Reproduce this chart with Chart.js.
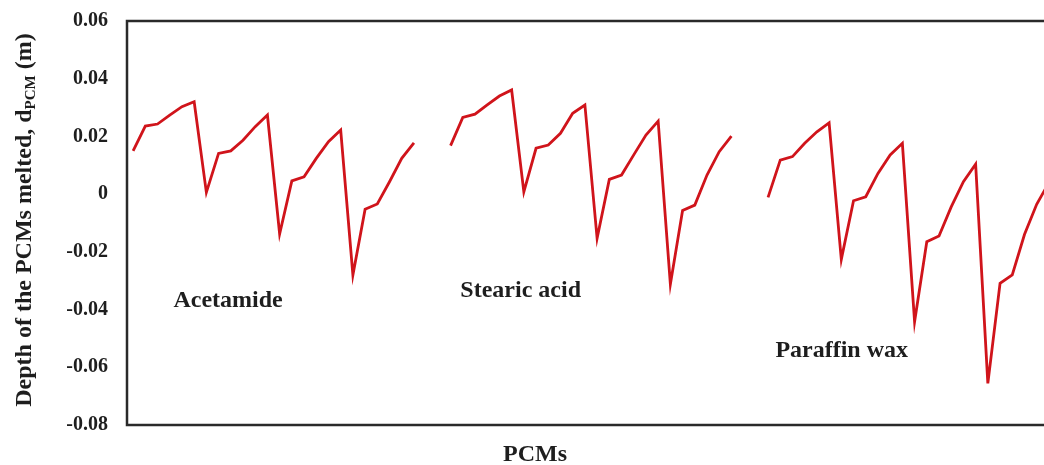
<!DOCTYPE html>
<html>
<head>
<meta charset="utf-8">
<script src="https://cdn.jsdelivr.net/npm/chart.js@4.4.1/dist/chart.umd.min.js"></script>
<style>
  html, body { margin: 0; padding: 0; background: #fff; overflow: hidden; }
  #wrap { position: absolute; left: 0; top: 0; width: 1080px; height: 465px; }
</style>
</head>
<body>
<div id="wrap"><canvas id="chart"></canvas></div>
<script>
"use strict";

// melted depth per time step, one run of 24 steps for each PCM
const acetamide = [
  0.0150, 0.0236, 0.0243, 0.0274, 0.0303, 0.0320,
  0.0006, 0.0141, 0.0150, 0.0187, 0.0234, 0.0274,
  -0.0138, 0.0046, 0.0060, 0.0124, 0.0182, 0.0222,
  -0.0280, -0.0052, -0.0034, 0.0043, 0.0124, 0.0178,
];
const stearicAcid = [
  0.0168, 0.0266, 0.0277, 0.0309, 0.0340, 0.0361,
  0.0008, 0.0159, 0.0170, 0.0211, 0.0280, 0.0309,
  -0.0153, 0.0051, 0.0066, 0.0136, 0.0205, 0.0253,
  -0.0312, -0.0057, -0.0038, 0.0066, 0.0147, 0.0201,
];
const paraffinWax = [
  -0.0011, 0.0118, 0.0130, 0.0176, 0.0216, 0.0247,
  -0.0226, -0.0023, -0.0009, 0.0072, 0.0136, 0.0176,
  -0.0442, -0.0165, -0.0145, -0.0044, 0.0043, 0.0104,
  -0.0656, -0.0309, -0.0280, -0.0140, -0.0035, 0.0040,
];
const pcmNames = ["Acetamide", "Stearic acid", "Paraffin wax"];
const yTicks = [0.06, 0.04, 0.02, 0, -0.02, -0.04, -0.06, -0.08];

const GAP = 2; // empty slots between the PCM runs
const runs = [acetamide, stearicAcid, paraffinWax];

const labels = [];
const datasets = [];
let start = 0;
runs.forEach((vals, k) => {
  datasets.push({ label: pcmNames[k], data: [], start });
  start += vals.length + GAP;
});
const total = start - GAP;
for (let i = 0; i < total; i++) labels.push(String(i + 1));
datasets.forEach((ds, k) => {
  const vals = runs[k];
  ds.data = labels.map((_, i) => {
    const j = i - ds.start;
    return j >= 0 && j < vals.length ? vals[j] : null;
  });
  delete ds.start;
  Object.assign(ds, { borderColor: "#d0141b", borderWidth: 2.8, pointRadius: 0, tension: 0, fill: false, spanGaps: false });
});

const SERIF = '"Liberation Serif", "Times New Roman", serif';
const INK = "#1e1e1e";

// where each PCM name sits: category index of its left edge and the value at its baseline
const nameAnchors = [
  { idx: 3.3, val: -0.0391 },
  { idx: 26.8, val: -0.0356 },
  { idx: 52.6, val: -0.0564 },
];

const decorations = {
  id: "decorations",
  beforeDatasetsDraw(chart) {
    const { ctx, chartArea: a } = chart;
    ctx.save();
    ctx.strokeStyle = "#2a2a2a";
    ctx.lineWidth = 2.5;
    ctx.strokeRect(a.left, a.top, a.right - a.left, a.bottom - a.top);
    ctx.restore();
  },
  afterDraw(chart) {
    const { ctx, scales } = chart;
    ctx.save();
    ctx.fillStyle = INK;

    // PCM names inside the plot
    ctx.font = `bold 24px ${SERIF}`;
    ctx.textAlign = "left";
    ctx.textBaseline = "alphabetic";
    nameAnchors.forEach((p, k) => {
      ctx.fillText(pcmNames[k], scales.x.getPixelForValue(p.idx), scales.y.getPixelForValue(p.val));
    });

    // x axis title
    ctx.textAlign = "center";
    ctx.fillText("PCMs", 535, 461);

    // y axis title with subscript
    const main = "Depth of the PCMs melted, d";
    const sub = "PCM";
    const tail = " (m)";
    const big = `bold 24px ${SERIF}`;
    const small = `bold 15px ${SERIF}`;
    ctx.font = big;
    const w1 = ctx.measureText(main).width;
    const w3 = ctx.measureText(tail).width;
    ctx.font = small;
    const w2 = ctx.measureText(sub).width;
    const full = w1 + w2 + w3;
    ctx.translate(31, 220);
    ctx.rotate(-Math.PI / 2);
    ctx.textAlign = "left";
    let x = -full / 2;
    ctx.font = big;
    ctx.fillText(main, x, 0);
    x += w1;
    ctx.font = small;
    ctx.fillText(sub, x, 4);
    x += w2;
    ctx.font = big;
    ctx.fillText(tail, x, 0);
    ctx.restore();
  },
};

new Chart(document.getElementById("chart"), {
  type: "line",
  data: { labels, datasets },
  options: {
    responsive: true,
    maintainAspectRatio: false,
    animation: false,
    layout: { padding: { top: 21, right: 25, left: 0, bottom: 0 } },
    plugins: { legend: { display: false }, tooltip: { enabled: false } },
    scales: {
      x: {
        type: "category",
        offset: true,
        grid: { display: false, drawTicks: false },
        border: { display: false },
        ticks: { display: false },
        afterFit: (s) => { s.height = 40; },
      },
      y: {
        min: yTicks[yTicks.length - 1],
        max: yTicks[0],
        grid: { display: false, drawTicks: false },
        border: { display: false },
        afterBuildTicks: (s) => { s.ticks = yTicks.map((v) => ({ value: v })); },
        afterFit: (s) => { s.width = 127; s.paddingTop = 0; s.paddingBottom = 0; },
        ticks: {
          padding: 19,
          color: INK,
          font: { family: SERIF, size: 20, weight: "bold" },
          callback: (v) => (Math.abs(v) < 1e-9 ? "0" : (Math.round(v * 100) / 100).toFixed(2)),
        },
      },
    },
  },
  plugins: [decorations],
});
</script>
</body>
</html>
